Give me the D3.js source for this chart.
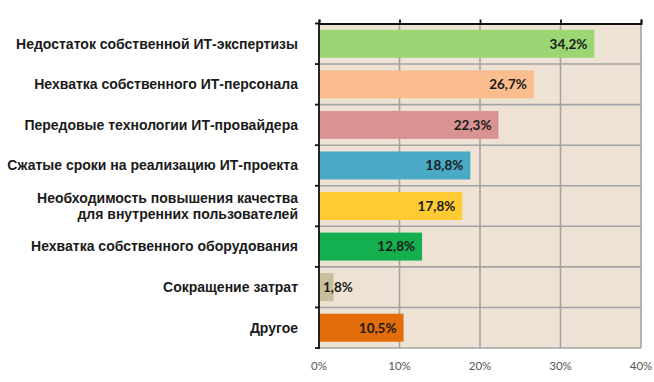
<!DOCTYPE html>
<html><head><meta charset="utf-8">
<script src="https://cdn.jsdelivr.net/npm/d3@7"></script>
<style>body{margin:0;background:#fff}svg{display:block}</style>
</head><body><svg id="c" width="654" height="382"></svg>
<script>
const categories = [
  ["Недостаток собственной ИТ-экспертизы"],
  ["Нехватка собственного ИТ-персонала"],
  ["Передовые технологии ИТ-провайдера"],
  ["Сжатые сроки на реализацию ИТ-проекта"],
  ["Необходимость повышения качества","для внутренних пользователей"],
  ["Нехватка собственного оборудования"],
  ["Сокращение затрат"],
  ["Другое"]
];
const values = [34.2, 26.7, 22.3, 18.8, 17.8, 12.8, 1.8, 10.5];
const valueLabels = ["34,2%","26,7%","22,3%","18,8%","17,8%","12,8%","1,8%","10,5%"];
const colors = ["#9bd674","#fbbd8e","#d99393","#4aaac6","#ffcb33","#14b050","#c6bf9c","#e36c0b"];
const xTicks = [0, 10, 20, 30, 40];
const xTickLabels = ["0%","10%","20%","30%","40%"];

const svg = d3.select("#c");
const m = {left:319, right:641, top:23.5, bottom:348};
const x = d3.scaleLinear().domain([0,40]).range([m.left, m.right]);
const y = d3.scaleBand().domain(d3.range(categories.length)).range([m.top, m.bottom]).paddingInner(0.31).paddingOuter(0.155);
const step = y.step();

svg.append("rect").attr("x", m.left).attr("y", m.top).attr("width", m.right-m.left).attr("height", m.bottom-m.top).attr("fill", "#eee2d5");

svg.append("g").selectAll("line").data(xTicks.slice(1)).join("line")
  .attr("x1", d=>x(d)).attr("x2", d=>x(d)).attr("y1", m.top).attr("y2", m.bottom)
  .attr("stroke", "#a3a3a3").attr("stroke-width", 1.6);
const bounds = d3.range(1, categories.length+1).map(i => m.top + i*step);
svg.append("g").selectAll("line").data(bounds).join("line")
  .attr("x1", m.left).attr("x2", m.right).attr("y1", d=>d).attr("y2", d=>d)
  .attr("stroke", "#a3a3a3").attr("stroke-width", 1.6);

svg.append("g").selectAll("rect").data(values).join("rect")
  .attr("x", x(0)).attr("y", (d,i)=>y(i)).attr("width", d=>x(d)-x(0)).attr("height", y.bandwidth())
  .attr("fill", (d,i)=>colors[i]);

const topAxis = d3.axisTop(x).tickValues(xTicks).tickSize(4).tickFormat("");
const tg = svg.append("g").attr("transform", `translate(0,${m.top})`).call(topAxis);
tg.selectAll("path,line").attr("stroke", "#111").attr("stroke-width", 1.8);

const lg = svg.append("g");
lg.append("line").attr("x1", m.left).attr("x2", m.left).attr("y1", m.top-1).attr("y2", m.bottom+1).attr("stroke", "#111").attr("stroke-width", 1.8);
lg.selectAll("line.t").data([m.top].concat(bounds)).join("line").attr("class","t")
  .attr("x1", m.left-4).attr("x2", m.left).attr("y1", d=>d).attr("y2", d=>d).attr("stroke", "#111").attr("stroke-width", 1.8);

const cl = svg.append("g").attr("font-family", "'Liberation Sans', Arial, sans-serif").attr("font-weight", "bold").attr("font-size", 14).attr("fill", "#1a1a1a").attr("text-anchor", "end");
categories.forEach((lines, i) => {
  const cy = y(i) + y.bandwidth()/2;
  const t = cl.append("text").attr("x", 298).attr("y", cy - (lines.length-1)*8.3);
  lines.forEach((ln, j) => t.append("tspan").attr("x", 298).attr("dy", j===0 ? "0.35em" : 16.6).text(ln));
});

const vl = svg.append("g").attr("font-family", "Lato, 'Open Sans', sans-serif").attr("font-weight", "bold").attr("font-size", 13.5).attr("fill", "#1a1a1a");
values.forEach((v, i) => {
  const t = vl.append("text").attr("y", y(i)+y.bandwidth()/2).attr("dy", "0.36em").text(valueLabels[i]);
  const w = t.node().getComputedTextLength();
  const endX = Math.max(x(v) - 7, x(0) + 4 + w);
  t.attr("x", endX).attr("text-anchor", "end");
});

svg.append("g").selectAll("text").data(xTicks).join("text")
  .attr("x", d=>x(d)).attr("y", 366).attr("dy", "0.35em").attr("text-anchor", "middle")
  .attr("font-family", "Lato, 'Open Sans', sans-serif").attr("font-size", 11.5).attr("fill", "#555")
  .text((d,i)=>xTickLabels[i]);
</script></body></html>
